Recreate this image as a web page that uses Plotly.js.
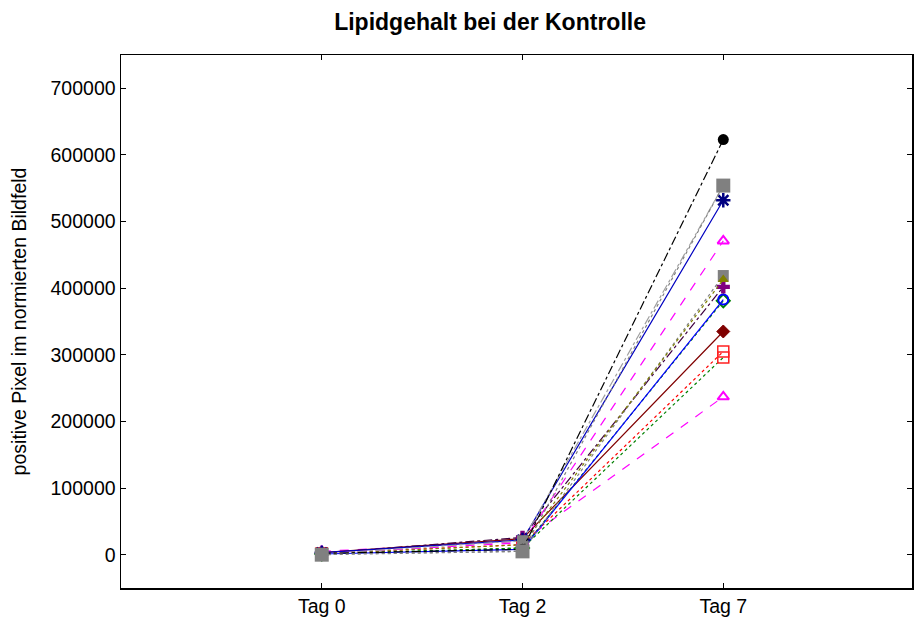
<!DOCTYPE html>
<html>
<head>
<meta charset="utf-8">
<script src="https://cdn.plot.ly/plotly-3.0.1.min.js"></script>
<style>html,body{margin:0;padding:0;background:#fff;}#chart{width:916px;height:624px;}</style>
</head>
<body>
<div id="chart"></div>
<script>
const days = ["Tag 0", "Tag 2", "Tag 7"];
const yTicks = [0, 100000, 200000, 300000, 400000, 500000, 600000, 700000];

const s01 = [2000, 8000, 623000];
const s02 = [1000, 21000, 554000];
const s03 = [3000, 22000, 532000];
const s04 = [2000, 18000, 471000];
const s05 = [1000, 5000, 419000];
const s06 = [1500, 15000, 413000];
const s07 = [2000, 26000, 402000];
const s08 = [1000, 8000, 383000];
const s09 = [1000, 10000, 381000];
const s10 = [3000, 24000, 335000];
const s11 = [2000, 15000, 305000];
const s12 = [1000, 10000, 296000];
const s13 = [5000, 20000, 237000];
const s14 = [0, 5000, 554000];

function tr(y, color, dash, symbol, mcolor, msize, mline) {
  return {
    x: days, y: y, type: 'scatter', mode: 'lines+markers',
    line: {color: color, width: 1.2, dash: dash},
    marker: {symbol: symbol, color: mcolor, size: msize, line: {color: mcolor, width: mline}},
    showlegend: false, hoverinfo: 'skip'
  };
}

const data = [
  tr(s13, '#ff00ff', 'dash', 'triangle-up-open', '#ff00ff', 10, 2),
  tr(s12, '#008000', 'dot', 'square-open', '#ff2020', 11, 1.5),
  tr(s11, '#ff0000', 'dot', 'square-open', '#ff2020', 11, 1.5),
  tr(s10, '#800000', 'solid', 'diamond', '#800000', 10, 1),
  tr(s09, '#008000', 'dot', 'diamond-open', '#008000', 10, 2),
  tr(s08, '#0000ff', 'solid', 'circle-open', '#0000ff', 10, 2),
  tr(s07, '#400040', 'dashdot', 'cross', '#800080', 11, 0),
  tr(s05, '#808080', 'dot', 'square', '#808080', 11, 0),
  tr(s06, '#808000', 'dot', 'triangle-up', '#808000', 10, 0),
  tr(s04, '#ff00ff', 'dash', 'triangle-up-open', '#ff00ff', 10, 2),
  tr(s03, '#0000c0', 'solid', 'asterisk-open', '#000080', 12, 2.5),
  tr(s02, '#a0a0a0', 'dashdot', 'square', '#808080', 11, 0),
  tr(s01, '#000000', 'dashdot', 'circle', '#000000', 11, 0),
  tr(s14, '#808080', 'dot', 'square', '#808080', 14, 0)
];

const layout = {
  width: 916, height: 624,
  margin: {l: 121, r: 4, t: 55, b: 36},
  paper_bgcolor: '#ffffff', plot_bgcolor: '#ffffff',
  font: {family: 'Liberation Sans, Arial, sans-serif', size: 19, color: '#000'},
  title: {text: '<b>Lipidgehalt bei der Kontrolle</b>', font: {size: 23, color: '#000'},
          x: 0.535, xref: 'container', y: 0.965, yref: 'container', yanchor: 'middle'},
  xaxis: {
    type: 'category', range: [-1, 2.94], showgrid: false, zeroline: false,
    showline: true, linecolor: '#000', linewidth: 1.5, mirror: 'ticks',
    ticks: 'inside', ticklen: 5, tickcolor: '#000', tickfont: {size: 19.5}
  },
  yaxis: {
    range: [-50000, 750000], tickvals: yTicks, tickformat: 'd',
    showgrid: false, zeroline: false,
    showline: true, linecolor: '#000', linewidth: 1.5, mirror: 'ticks',
    ticks: 'inside', ticklen: 5, tickcolor: '#000', tickfont: {size: 19.5},
    title: {text: 'positive Pixel im normierten Bildfeld', font: {size: 19.5}, standoff: 18}
  }
};

Plotly.newPlot('chart', data, layout, {displayModeBar: false, staticPlot: true});
</script>
</body>
</html>
